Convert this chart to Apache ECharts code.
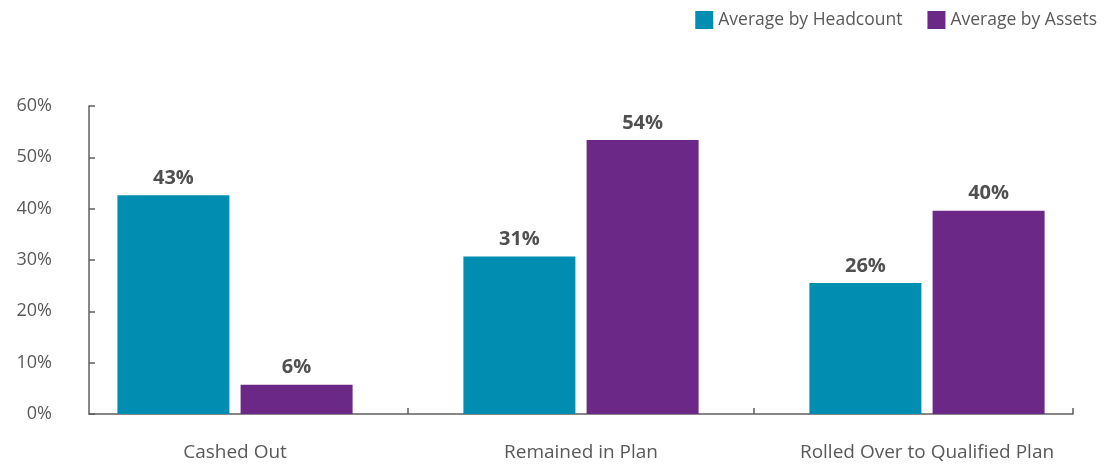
<!DOCTYPE html>
<html>
<head>
<meta charset="utf-8">
<script src="https://cdn.jsdelivr.net/npm/echarts@6/dist/echarts.min.js"></script>
<style>
html,body{margin:0;padding:0;background:#fff;}
#chart{width:1114px;height:466px;}
</style>
</head>
<body>
<div id="chart"></div>
<script>
const categories = ['Cashed Out', 'Remained in Plan', 'Rolled Over to Qualified Plan'];
const seriesNames = ['Average by Headcount', 'Average by Assets'];
const headcountValues = [42.6, 30.7, 25.5];
const assetsValues = [5.7, 53.4, 39.6];
const headcountLabels = ['43%', '31%', '26%'];
const assetsLabels = ['6%', '54%', '40%'];
const yMin = 0, yMax = 60, yStep = 10;

const FONT = 'Open Sans';
const TEXT = '#595959';
const AXIS = '#5f5f5f';

// layout
const barsLeft = 62, barsRight = 14, gTop = 106, gBottom = 52;
const frameLeft = 89, frameRight = 41;
const bandW = (1114 - barsLeft - barsRight) / categories.length;
const fMin = (frameLeft - barsLeft) / bandW;
const fMax = categories.length - (frameRight - barsRight) / bandW;

const chart = echarts.init(document.getElementById('chart'), null, {renderer: 'canvas'});
chart.setOption({
  animation: false,
  textStyle: {fontFamily: FONT},
  legend: {
    data: seriesNames,
    top: 6, right: 12,
    icon: 'rect', itemWidth: 18, itemHeight: 18, itemGap: 25,
    textStyle: {fontFamily: FONT, fontSize: 17.5, color: TEXT}
  },
  grid: [
    {left: barsLeft, right: barsRight, top: gTop, bottom: gBottom},
    {left: frameLeft, right: frameRight, top: gTop, bottom: gBottom}
  ],
  xAxis: [
    {
      type: 'category', gridIndex: 0, data: categories,
      axisLine: {show: false}, axisTick: {show: false},
      axisLabel: {fontFamily: FONT, fontSize: 19, color: TEXT, margin: 29}
    },
    {
      type: 'value', gridIndex: 1, min: fMin, max: fMax,
      splitLine: {show: false},
      axisLabel: {show: false},
      axisLine: {show: true, lineStyle: {color: AXIS, width: 1.5}},
      axisTick: {show: true, inside: true, length: 6, customValues: [1, 2, fMax], lineStyle: {color: AXIS, width: 1.5}}
    }
  ],
  yAxis: [
    {type: 'value', gridIndex: 0, min: yMin, max: yMax, interval: yStep, show: false},
    {
      type: 'value', gridIndex: 1, min: yMin, max: yMax, interval: yStep,
      splitLine: {show: false},
      axisLine: {show: true, lineStyle: {color: AXIS, width: 1.5}},
      axisTick: {show: true, inside: true, length: 6, lineStyle: {color: AXIS, width: 1.5}},
      axisLabel: {formatter: '{value}%', fontFamily: FONT, fontSize: 18, color: TEXT, margin: 37}
    }
  ],
  series: [
    {
      name: seriesNames[0], type: 'bar', xAxisIndex: 0, yAxisIndex: 0,
      data: headcountValues, barWidth: 112, barGap: '10%',
      itemStyle: {color: '#008db2'},
      label: {show: true, position: 'top', distance: 7, fontFamily: FONT, fontSize: 20, fontWeight: 'bold', color: '#505050',
        formatter: p => headcountLabels[p.dataIndex]}
    },
    {
      name: seriesNames[1], type: 'bar', xAxisIndex: 0, yAxisIndex: 0,
      data: assetsValues, barWidth: 112, barGap: '10%',
      itemStyle: {color: '#6b2887'},
      label: {show: true, position: 'top', distance: 7, fontFamily: FONT, fontSize: 20, fontWeight: 'bold', color: '#505050',
        formatter: p => assetsLabels[p.dataIndex]}
    }
  ]
});
</script>
</body>
</html>
